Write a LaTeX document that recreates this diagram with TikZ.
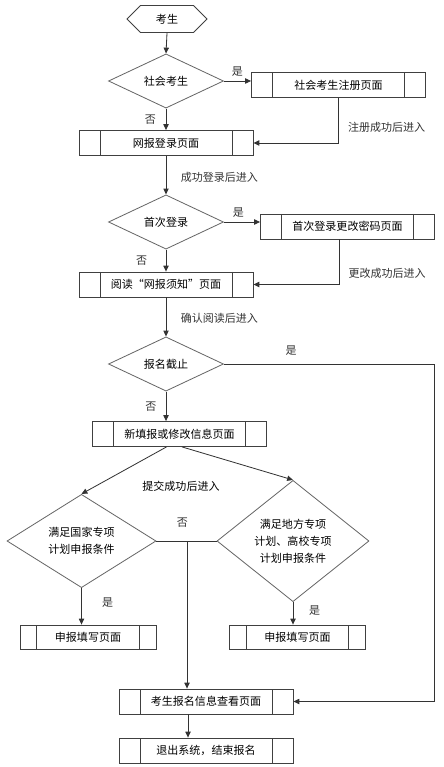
\documentclass[tikz,border=0pt]{standalone}
\usepackage{fontspec}
\setmainfont{Noto Sans CJK SC}
\usetikzlibrary{arrows.meta,positioning,calc,shapes.geometric,shapes.symbols}

\begin{document}
\begin{tikzpicture}[
  x=0.03cm,y=-0.03cm,
  font=\fontsize{9.4pt}{14.5pt}\selectfont,
  >={Triangle[length=5pt,width=4.5pt]},
  proc/.style={draw=black!75,line width=.7pt,minimum width=5.22cm,minimum height=.75cm,inner sep=0pt,
    path picture={\draw[black!75,line width=.7pt]
      ([xshift=#1]path picture bounding box.north west) -- ([xshift=#1]path picture bounding box.south west)
      ([xshift=-#1]path picture bounding box.north east) -- ([xshift=-#1]path picture bounding box.south east);}},
  proc/.default=.63cm,
  small/.style={proc=.5cm,minimum width=4.08cm,minimum height=.72cm},
  decide/.style={diamond,draw=black!60,line width=.7pt,inner sep=0pt,minimum width=3.45cm,minimum height=1.47cm,align=center},
  line/.style={->,line width=.7pt,black!80},
  link/.style={line width=.7pt,black!80}
]
\useasboundingbox (0,0) rectangle (443,767);

% Login and first steps.
\node[signal,signal to=west and east,signal pointer angle=90,draw=black!75,line width=.7pt,
  minimum width=2.4cm,minimum height=.81cm,inner sep=0pt] (start) at (167,19) {考生};
\node[decide] (social) at (166,81) {社会考生};
\node[proc] (socreg) at (338.5,85) {社会考生注册页面};
\node[proc] (login) at (166,143) {网报登录页面};
\node[decide] (first) at (166,222) {首次登录};
\node[proc] (pwd) at (347.5,226.5) {首次登录更改密码页面};
\node[proc] (notice) at (166,284.5) {阅读“网报须知”页面};
\node[decide] (deadline) at (166,364) {报名截止};
\node[proc] (info) at (179.5,434) {新填报或修改信息页面};

% Special plans.
\node (submit) at (181,486) {提交成功后进入};
\node[decide,minimum width=4.47cm,minimum height=2.01cm] (nat) at (81.5,541) {满足国家专项\\计划申报条件};
\node[decide,minimum width=4.56cm,minimum height=3.09cm] (loc) at (293,541) {满足地方专项\\计划、高校专项\\计划申报条件};
\node[small] (natfill) at (88,637) {申报填写页面};
\node[small] (locfill) at (297.5,637) {申报填写页面};
\node[proc] (view) at (206,701.5) {考生报名信息查看页面};
\node[proc] (quit) at (206,750.5) {退出系统，结束报名};
\coordinate (rgt) at (434,364);
\coordinate (jn) at ($(view.north)+(-19,0)$);

\draw[line] (start.south) -- (social.north);
\draw[line] (social.east) -- node[above=0pt] {是} (social.east -| socreg.west);
\draw[line] (social.south) -- node[left=5pt] {否} (login.north);
\draw[line] (socreg.south) |- node[pos=.33,right=4.5pt] {注册成功后进入} (login.east);
\draw[line] (login.south) -- node[pos=.56,right=9pt] {成功登录后进入} (first.north);
\draw[line] (first.east) -- node[pos=.4,above=0pt] {是} (first.east -| pwd.west);
\draw[line] (first.south) -- node[left=12.5pt] {否} (notice.north);
\draw[line] ($(pwd.south)+(-8.5,0)$) |- node[pos=.38,right=4.5pt] {更改成功后进入} (notice.east);
\draw[line] (notice.south) -- node[pos=.54,right=9pt] {确认阅读后进入} (deadline.north);
\draw[line] (deadline.east) -- node[pos=.32,above=3.5pt] {是} (rgt) |- (view.east);
\draw[line] (deadline.south) -- node[left=4.5pt] {否} (deadline.south |- info.north);
\draw[line] ($(info.south)+(-13,0)$) -- (nat.north);
\draw[line] ($(info.south)+(2.5,0)$) -- (loc.north);
\draw[link] (nat.east) -- node[pos=.43,above=8pt] {否} (loc.west);
\draw[line] (jn |- nat.east) -- (jn);
\draw[line] (nat.south) -- node[pos=.4,right=14pt] {是} (nat.south |- natfill.north);
\draw[line] (loc.south) -- node[pos=.38,right=10pt] {是} (loc.south |- locfill.north);
\draw[line] ($(view.south)+(-18,0)$) -- ($(quit.north)+(-18,0)$);
\end{tikzpicture}
\end{document}
